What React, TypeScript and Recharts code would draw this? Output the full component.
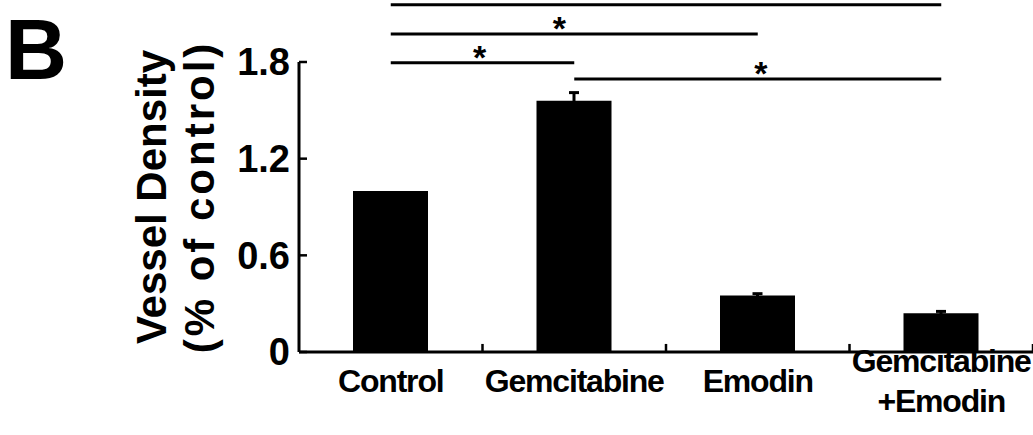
import { BarChart, Bar, XAxis, YAxis, ErrorBar, ReferenceLine } from 'recharts'

const FONT = '"Liberation Sans", Arial, Helvetica, sans-serif'

// groups on the x axis (\n splits a label over two lines)
const groups = ['Control', 'Gemcitabine', 'Emodin', 'Gemcitabine\n+Emodin']
// vessel density, fraction of control
const density = [1.0, 1.56, 0.35, 0.24]
const sem = [null, 0.05, 0.012, 0.012]
const yTicks = [0, 0.6, 1.2, 1.8]

// significance brackets: from group -> to group, height in data units
const sigFrom = ['Control', 'Control', 'Control', 'Gemcitabine']
const sigTo = ['Gemcitabine\n+Emodin', 'Emodin', 'Gemcitabine', 'Gemcitabine\n+Emodin']
const sigLevel = [2.155, 1.974, 1.795, 1.695]
const sigStar = ['', '*', '*', '*']
const sigStarShift = [0, -15, -3, 3]

const data = groups.map((g, i) => ({ group: g, value: density[i], err: sem[i] }))

function XTick(props: any) {
  const { x, payload } = props
  const lines = String(payload.value).split('\n')
  const baseY = lines.length > 1 ? [372, 412] : [392]
  return (
    <g>
      {lines.map((l, i) => (
        <text
          key={l}
          x={x}
          y={baseY[i]}
          textAnchor="middle"
          fontFamily={FONT}
          fontWeight="bold"
          fontSize={32}
          letterSpacing={-1.2}
          fill="#000"
        >
          {l}
        </text>
      ))}
    </g>
  )
}

function YLabel(props: any) {
  const vb = props.viewBox || { y: 62, height: 290 }
  const cy = vb.y + vb.height / 2 - 10
  return (
    <g fontFamily={FONT} fontWeight="bold" fontSize={42} fill="#000">
      <text x={166} y={cy} textAnchor="middle" transform={`rotate(-90, 166, ${cy})`}>
        Vessel Density
      </text>
      <text
        x={214}
        y={cy}
        textAnchor="middle"
        letterSpacing={3}
        transform={`rotate(-90, 214, ${cy})`}
      >
        (% of control)
      </text>
    </g>
  )
}

function starLabel(star: string, shift: number) {
  return (props: any) => {
    const vb = props.viewBox || {}
    const x1 = vb.x1 ?? vb.x
    const x2 = vb.x2 ?? vb.x + (vb.width || 0)
    const y = vb.y1 ?? vb.y
    if (!star) return null
    return (
      <text
        x={(x1 + x2) / 2 + shift}
        y={y + 6}
        textAnchor="middle"
        fontFamily={FONT}
        fontWeight="bold"
        fontSize={34}
        fill="#000"
      >
        {star}
      </text>
    )
  }
}

export default function App() {
  return (
    <div
      style={{
        position: 'absolute',
        left: 0,
        top: 0,
        width: 1033,
        height: 435,
        background: '#fff',
        fontFamily: FONT,
      }}
    >
      <div
        style={{
          position: 'absolute',
          left: 5,
          top: 0,
          fontSize: 86,
          fontWeight: 'bold',
          color: '#000',
          lineHeight: 'normal',
        }}
      >
        B
      </div>
      <BarChart
        width={1033}
        height={435}
        data={data}
        margin={{ top: 62, right: 0, bottom: 0, left: 0 }}
        style={{ overflow: 'visible' }}
      >
        <XAxis
          dataKey="group"
          interval={0}
          height={83}
          tickLine={false}
          axisLine={{ stroke: '#000', strokeWidth: 3 }}
          tick={<XTick />}
        />
        <YAxis
          domain={[0, 1.8]}
          ticks={yTicks}
          width={299}
          axisLine={{ stroke: '#000', strokeWidth: 3 }}
          tickLine={{ stroke: '#000', strokeWidth: 2.5 }}
          tickSize={-8}
          tickMargin={17}
          tick={{ fontSize: 38, fontWeight: 'bold', fill: '#000', fontFamily: FONT }}
          label={YLabel}
        />
        <Bar dataKey="value" fill="#000" barSize={75} isAnimationActive={false}>
          <ErrorBar dataKey="err" width={5} strokeWidth={3} stroke="#000" direction="y" />
        </Bar>
        {groups.map((g) => (
          <ReferenceLine
            key={'tick-' + g}
            segment={[
              { x: g, y: 0 },
              { x: g, y: 0.05 },
            ]}
            position="end"
            stroke="#000"
            strokeWidth={2.5}
            ifOverflow="visible"
          />
        ))}
        {sigFrom.map((f, i) => (
          <ReferenceLine
            key={'sig-' + i}
            segment={[
              { x: f, y: sigLevel[i] },
              { x: sigTo[i], y: sigLevel[i] },
            ]}
            stroke="#000"
            strokeWidth={3}
            ifOverflow="visible"
            label={starLabel(sigStar[i], sigStarShift[i])}
          />
        ))}
      </BarChart>
    </div>
  )
}
